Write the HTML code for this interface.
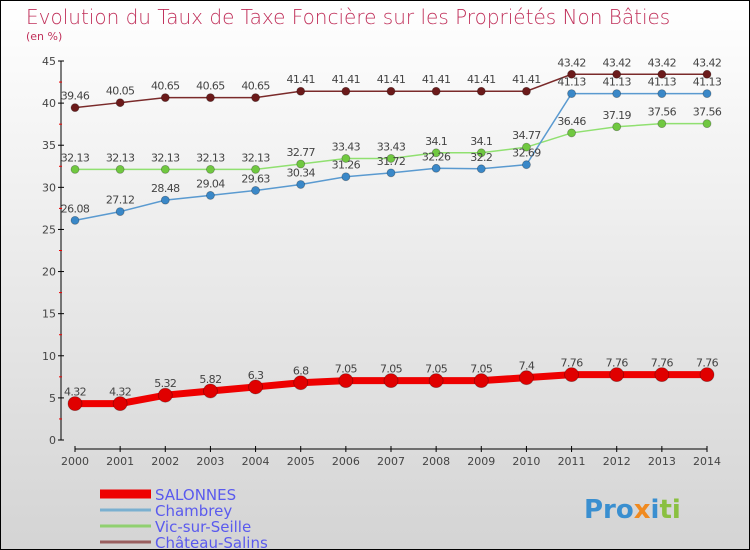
<!DOCTYPE html>
<html><head><meta charset="utf-8"><style>
body{margin:0;}
svg{display:block;font-family:"DejaVu Sans","Liberation Sans",sans-serif;}
</style></head><body>
<svg width="750" height="550" xmlns="http://www.w3.org/2000/svg">
<defs><linearGradient id="bg" x1="0" y1="0" x2="0" y2="1"><stop offset="0" stop-color="#ffffff"/><stop offset="1" stop-color="#d4d4d4"/></linearGradient></defs>
<rect x="0.5" y="0.5" width="749" height="549" fill="url(#bg)" stroke="#000"/>
<text x="26" y="24" font-size="20" fill="#c0305a" style="font-weight:200">Evolution du Taux de Taxe Foncière sur les Propriétés Non Bâties</text>
<text x="26" y="40" font-size="11" fill="#c0305a">(en %)</text>
<g id="axes"></g>
<g id="series"></g>
<g id="legend"></g>
<text x="584" y="518" font-size="26" font-weight="bold"><tspan fill="#3a8fd0">Pro</tspan><tspan fill="#f08a20">x</tspan><tspan fill="#3a8fd0">i</tspan><tspan fill="#8ac040">ti</tspan></text>
</svg>
<script>
const years=[2000,2001,2002,2003,2004,2005,2006,2007,2008,2009,2010,2011,2012,2013,2014];
const yTicks=[0,5,10,15,20,25,30,35,40,45];
const salonnes=[4.32,4.32,5.32,5.82,6.3,6.8,7.05,7.05,7.05,7.05,7.4,7.76,7.76,7.76,7.76];
const chambrey=[26.08,27.12,28.48,29.04,29.63,30.34,31.26,31.72,32.26,32.2,32.69,41.13,41.13,41.13,41.13];
const vic=[32.13,32.13,32.13,32.13,32.13,32.77,33.43,33.43,34.1,34.1,34.77,36.46,37.19,37.56,37.56];
const chateau=[39.46,40.05,40.65,40.65,40.65,41.41,41.41,41.41,41.41,41.41,41.41,43.42,43.42,43.42,43.42];
const seriesNames=["SALONNES","Chambrey","Vic-sur-Seille","Château-Salins"];
const NS="http://www.w3.org/2000/svg";
const x=i=>75+i*(707-75)/(years.length-1);
const y=v=>440-v*(440-61)/45;
function mk(tag,attrs,parent){const e=document.createElementNS(NS,tag);for(const k in attrs)e.setAttribute(k,attrs[k]);parent.appendChild(e);return e;}
const ax=document.getElementById('axes');
let l=mk('line',{x1:61,y1:61,x2:61,y2:440,stroke:'#000'},ax);


yTicks.forEach(t=>{
 mk('line',{x1:58,x2:64,y1:y(t),y2:y(t),stroke:'#000'},ax);
 if(t<45) mk('line',{x1:59,x2:62,y1:y(t+2.5),y2:y(t+2.5),stroke:'#e00'},ax);
 const tx=mk('text',{x:56,y:y(t)+4,'font-size':11,'text-anchor':'end',fill:'#444'},ax);
 tx.textContent=t;
 
 
});
l=mk('line',{x1:x(0),y1:449,x2:x(14),y2:449,stroke:'#000'},ax);


years.forEach((yr,i)=>{
 mk('line',{x1:x(i),x2:x(i),y1:446,y2:452,stroke:'#000'},ax);
 const tx=mk('text',{x:x(i),y:465,'font-size':11,'text-anchor':'middle',fill:'#444'},ax);
 tx.textContent=yr;
 
 
});
const sg=document.getElementById('series');
function draw(vals,color,dot,w,r,name){
 const g=mk('g',{},sg);
 
 
 mk('polyline',{points:vals.map((v,i)=>x(i)+','+y(v)).join(' '),fill:'none',stroke:color,'stroke-width':w},g);
 vals.forEach((v,i)=>{
  const c=mk('circle',{cx:x(i),cy:y(v),r:r,fill:dot,stroke:'rgba(0,0,0,0.3)','stroke-width':0.8},g);
  
  
  const t=mk('text',{x:x(i),y:y(v)-8,'font-size':11,'text-anchor':'middle',fill:'#444','letter-spacing':'-0.6'},g);
  t.textContent=String(v);
  
  
 });
}
draw(chateau,'#7a2a2a','#6b1a1a',1.5,4,'series-chateau-salins');
draw(vic,'#90e070','#70c840',1.5,4,'series-vic-sur-seille');
draw(chambrey,'#5a9ad0','#3a88c8',1.5,4,'series-chambrey');
draw(salonnes,'#ee0000','#e00000',7,7,'series-salonnes');
const lg=document.getElementById('legend');
const lc=['#ee0000','#7ab0d0','#90d070','#9a6060'],lw=[9,3,3,3];
seriesNames.forEach((n,i)=>{
 const yy=492+i*16;
 mk('line',{x1:100,x2:151,y1:yy+2,y2:yy+2,stroke:lc[i],'stroke-width':lw[i]},lg);
 const t=mk('text',{x:155,y:yy+8,'font-size':15,fill:'#5a5aee'},lg);
 t.textContent=n;
 
 
});
</script>
</body></html>
